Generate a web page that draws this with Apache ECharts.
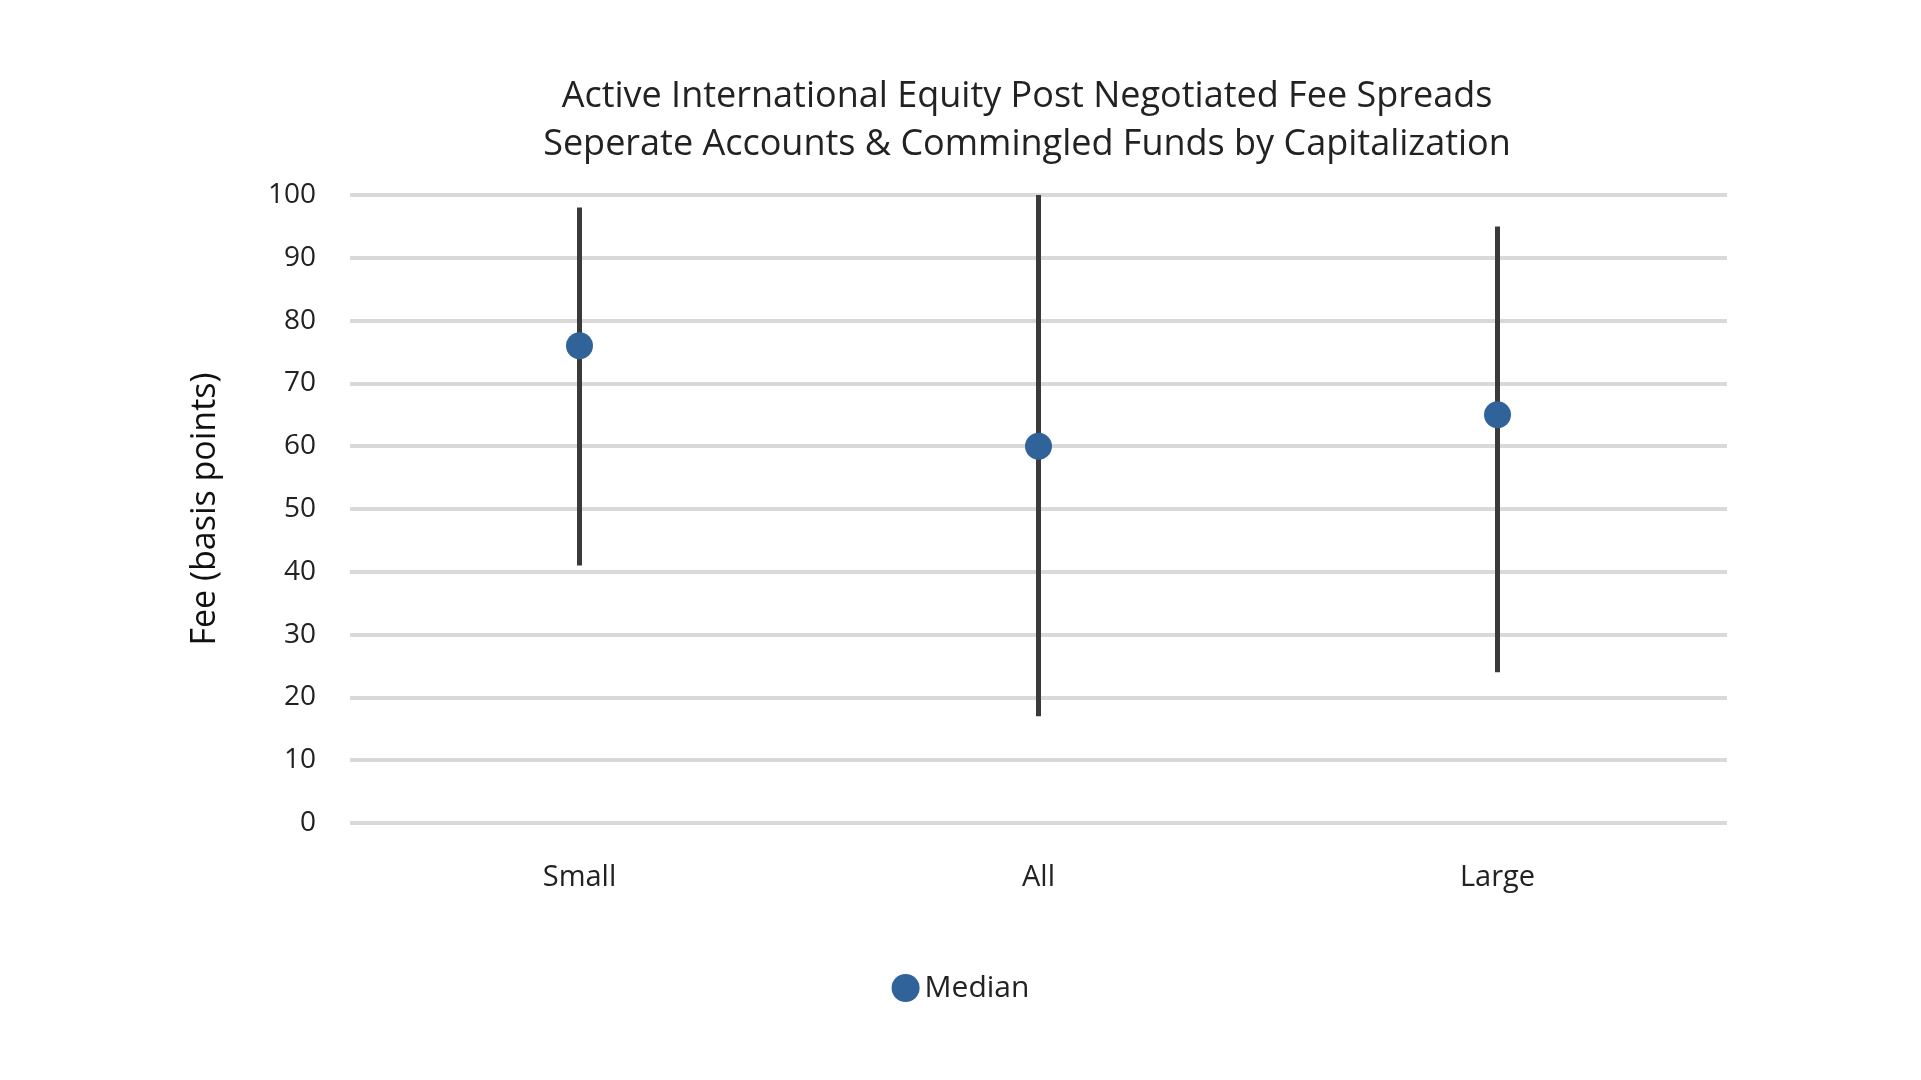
<!DOCTYPE html>
<html>
<head>
<meta charset="utf-8">
<script src="https://cdn.jsdelivr.net/npm/echarts@6/dist/echarts.min.js"></script>
<style>html,body{margin:0;background:#fff}#c{width:1921px;height:1080px}</style>
</head>
<body>
<div id="c"></div>
<script>
var categories = ['Small', 'All', 'Large'];
var lowVals = [41, 17, 24];
var highVals = [98, 100, 95];
var medianVals = [76, 60, 65];

var rangeData = categories.map(function (c, i) { return [i, lowVals[i], highVals[i]]; });

var myChart = echarts.init(document.getElementById('c'));
var font = '"Open Sans", Lato, sans-serif';
myChart.setOption({
    animation: false,
    title: {
        text: 'Active International Equity Post Negotiated Fee Spreads\nSeperate Accounts & Commingled Funds by Capitalization',
        left: 1022, top: 68, textAlign: 'center',
        textStyle: { fontFamily: font, fontWeight: 'normal', fontSize: 36, lineHeight: 48, color: '#222' }
    },
    legend: {
        data: ['Median'], bottom: 72, left: 'center',
        itemWidth: 28, itemHeight: 28, icon: 'circle',
        textStyle: { fontFamily: font, fontSize: 30, color: '#222' }
    },
    grid: { left: 350, right: 194, top: 195, bottom: 257 },
    xAxis: {
        type: 'category', data: categories,
        axisLine: { show: false }, axisTick: { show: false },
        axisLabel: { fontFamily: font, fontSize: 29, color: '#222', margin: 40 }
    },
    yAxis: {
        type: 'value', min: 0, max: 100, interval: 10,
        name: 'Fee (basis points)', nameLocation: 'middle', nameGap: 128,
        nameTextStyle: { fontFamily: font, fontSize: 34, color: '#111' },
        axisLabel: { fontFamily: font, fontSize: 28, color: '#222', margin: 34 },
        splitLine: { lineStyle: { color: '#d9d9d9', width: 4 } }
    },
    series: [
        {
            type: 'custom', name: 'Range',
            data: rangeData,
            renderItem: function (params, api) {
                var p1 = api.coord([api.value(0), api.value(1)]);
                var p2 = api.coord([api.value(0), api.value(2)]);
                return {
                    type: 'line',
                    shape: { x1: p1[0], y1: p1[1], x2: p2[0], y2: p2[1] },
                    style: { stroke: '#3a3a3a', lineWidth: 5 }
                };
            },
            z: 2
        },
        {
            type: 'scatter', name: 'Median', data: medianVals,
            symbolSize: 27, itemStyle: { color: '#2f6399', opacity: 1 }, z: 3
        }
    ]
});
</script>
</body>
</html>
